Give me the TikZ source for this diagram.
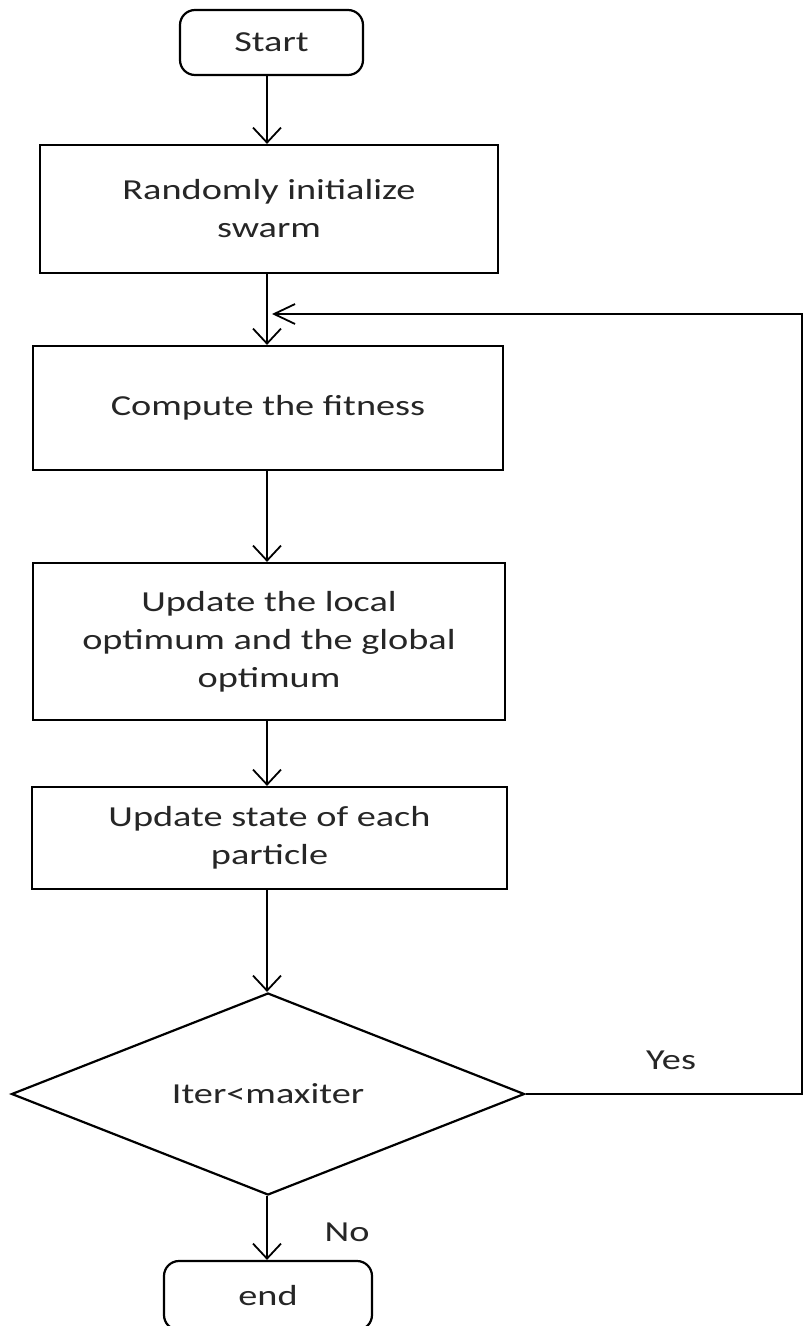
\documentclass[tikz,border=0pt]{standalone}
\usepackage{fontspec}
\setmainfont{Carlito}[FakeStretch=1.32]
\usetikzlibrary{shapes.geometric,arrows.meta}

\begin{document}
\begin{tikzpicture}[x=1pt,y=-1pt,
  every node/.style={font=\fontsize{29}{38}\selectfont, text=black!85},
  proc/.style={draw=black, line width=2.2pt, align=center, inner sep=0pt},
  term/.style={proc, rounded corners=15pt},
  decision/.style={proc, diamond, aspect=2.5},
  flow/.style={draw=black, line width=1.8pt,
    -{Straight Barb[length=15pt,width=28pt,line width=1.8pt]}},
  backflow/.style={draw=black, line width=1.8pt,
    -{Straight Barb[length=21pt,width=20pt,line width=1.8pt]}},
  lbl/.style={inner sep=0pt}]
\useasboundingbox (0,0) rectangle (805,1326);
\clip (0,0) rectangle (805,1326);

% process steps
\node[term, minimum width=183, minimum height=65] (start) at (271.5,42.5) {Start};
\node[proc, minimum width=458, minimum height=128] (init) at (269,209)
  {Randomly initialize\\swarm};
\node[proc, minimum width=470, minimum height=124] (fit) at (268,408)
  {Compute the fitness};
\node[proc, minimum width=472, minimum height=157] (opt) at (269,641.5)
  {Update the local\\optimum and the global\\optimum};
\node[proc, minimum width=475, minimum height=102] (state) at (269.5,838)
  {Update state of each\\particle};
\node[decision, minimum width=513, minimum height=202] (dec) at (268,1094)
  {Iter<maxiter};
\node[term, minimum width=208, minimum height=69] (stop) at (268,1295.5) {end};

% branch labels
\node[lbl] (yes) at (671,1060) {Yes};
\node[lbl] (no) at (347,1232) {No};

% vertical spine of the flow and the loop-back path
\coordinate (spine) at (267,0);
\coordinate (corner) at (802,314);
\coordinate (entry) at (272,314);

\draw[flow] (start.south -| spine) -- (init.north -| spine);
\draw[flow] (init.south -| spine) -- (fit.north -| spine);
\draw[flow] (fit.south -| spine) -- (opt.north -| spine);
\draw[flow] (opt.south -| spine) -- (state.north -| spine);
\draw[flow] (state.south -| spine) -- (dec.north -| spine);
\draw[flow] (dec.south -| spine) -- (stop.north -| spine);

% loop back while iterations remain
\draw[backflow] (dec.east) -| (corner) -- (entry);
\end{tikzpicture}
\end{document}
